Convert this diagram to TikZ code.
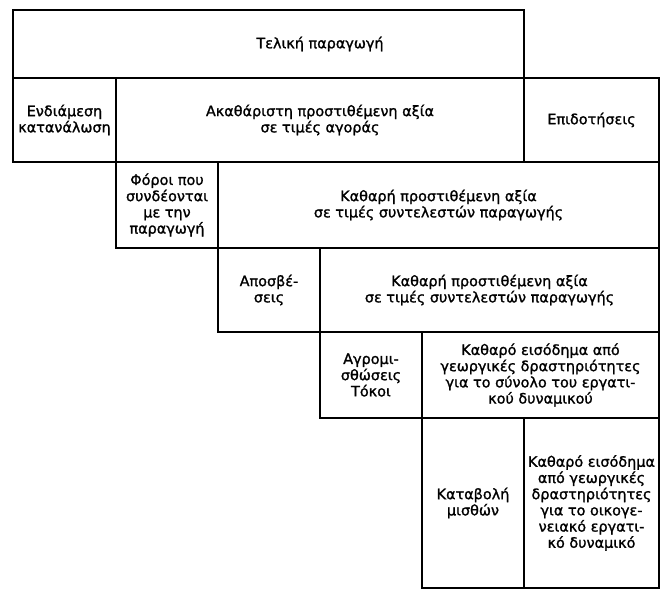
\documentclass[tikz,border=0pt]{standalone}
\usepackage{fontspec}
\setmainfont{DejaVu Sans}
\newfontfamily\lblfont[FakeBold=1.3]{DejaVu Sans}
\begin{document}
\begin{tikzpicture}[x=1pt,y=-1pt,
  cell/.style={draw=black, line width=1.6pt, inner sep=0pt, outer sep=0pt, rectangle},
  lbl/.style={inner sep=0pt, align=center, font=\lblfont\fontsize{14.4}{16.2}\selectfont}]
\useasboundingbox (0,0) rectangle (668,597);
% row 1
\node[cell, minimum width=511pt, minimum height=68pt] (tel) at (268.5,44) {};
% row 2
\node[cell, minimum width=103pt, minimum height=84pt] (end) at (64.5,120) {};
\node[cell, minimum width=408pt, minimum height=84pt] (aka) at (320,120) {};
\node[cell, minimum width=135pt, minimum height=84pt] (epi) at (591.5,120) {};
% row 3
\node[cell, minimum width=102pt, minimum height=86pt] (for) at (167,205) {};
\node[cell, minimum width=441pt, minimum height=86pt] (kpa) at (438.5,205) {};
% row 4
\node[cell, minimum width=102pt, minimum height=84pt] (apo) at (269,290) {};
\node[cell, minimum width=339pt, minimum height=84pt] (kpb) at (489.5,290) {};
% row 5
\node[cell, minimum width=102pt, minimum height=86pt] (agr) at (371,375) {};
\node[cell, minimum width=237pt, minimum height=86pt] (eis) at (540.5,375) {};
% row 6
\node[cell, minimum width=102pt, minimum height=170pt] (kbl) at (473,503) {};
\node[cell, minimum width=135pt, minimum height=170pt] (oik) at (591.5,503) {};
% labels
\node[lbl] (telT) at (320,44) {Τελική παραγωγή};
\node[lbl] (endT) at (end.center) {Ενδιάμεση\\κατανάλωση};
\node[lbl] (akaT) at (aka.center) {Ακαθάριστη προστιθέμενη αξία\\σε τιμές αγοράς};
\node[lbl] (epiT) at (epi.center) {Επιδοτήσεις};
\node[lbl] (forT) at (for.center) {Φόροι που\\συνδέονται\\με την\\παραγωγή};
\node[lbl] (kpaT) at (kpa.center) {Καθαρή προστιθέμενη αξία\\σε τιμές συντελεστών παραγωγής};
\node[lbl] (apoT) at (apo.center) {Αποσβέ-\\σεις};
\node[lbl] (kpbT) at (kpb.center) {Καθαρή προστιθέμενη αξία\\σε τιμές συντελεστών παραγωγής};
\node[lbl] (agrT) at (agr.center) {Αγρομι-\\σθώσεις\\Τόκοι};
\node[lbl] (eisT) at (eis.center) {Καθαρό εισόδημα από\\γεωργικές δραστηριότητες\\για το σύνολο του εργατι-\\κού δυναμικού};
\node[lbl] (kblT) at (kbl.center) {Καταβολή\\μισθών};
\node[lbl] (oikT) at (oik.center) {Καθαρό εισόδημα\\από γεωργικές\\δραστηριότητες\\για το οικογε-\\νειακό εργατι-\\κό δυναμικό};
\end{tikzpicture}
\end{document}
